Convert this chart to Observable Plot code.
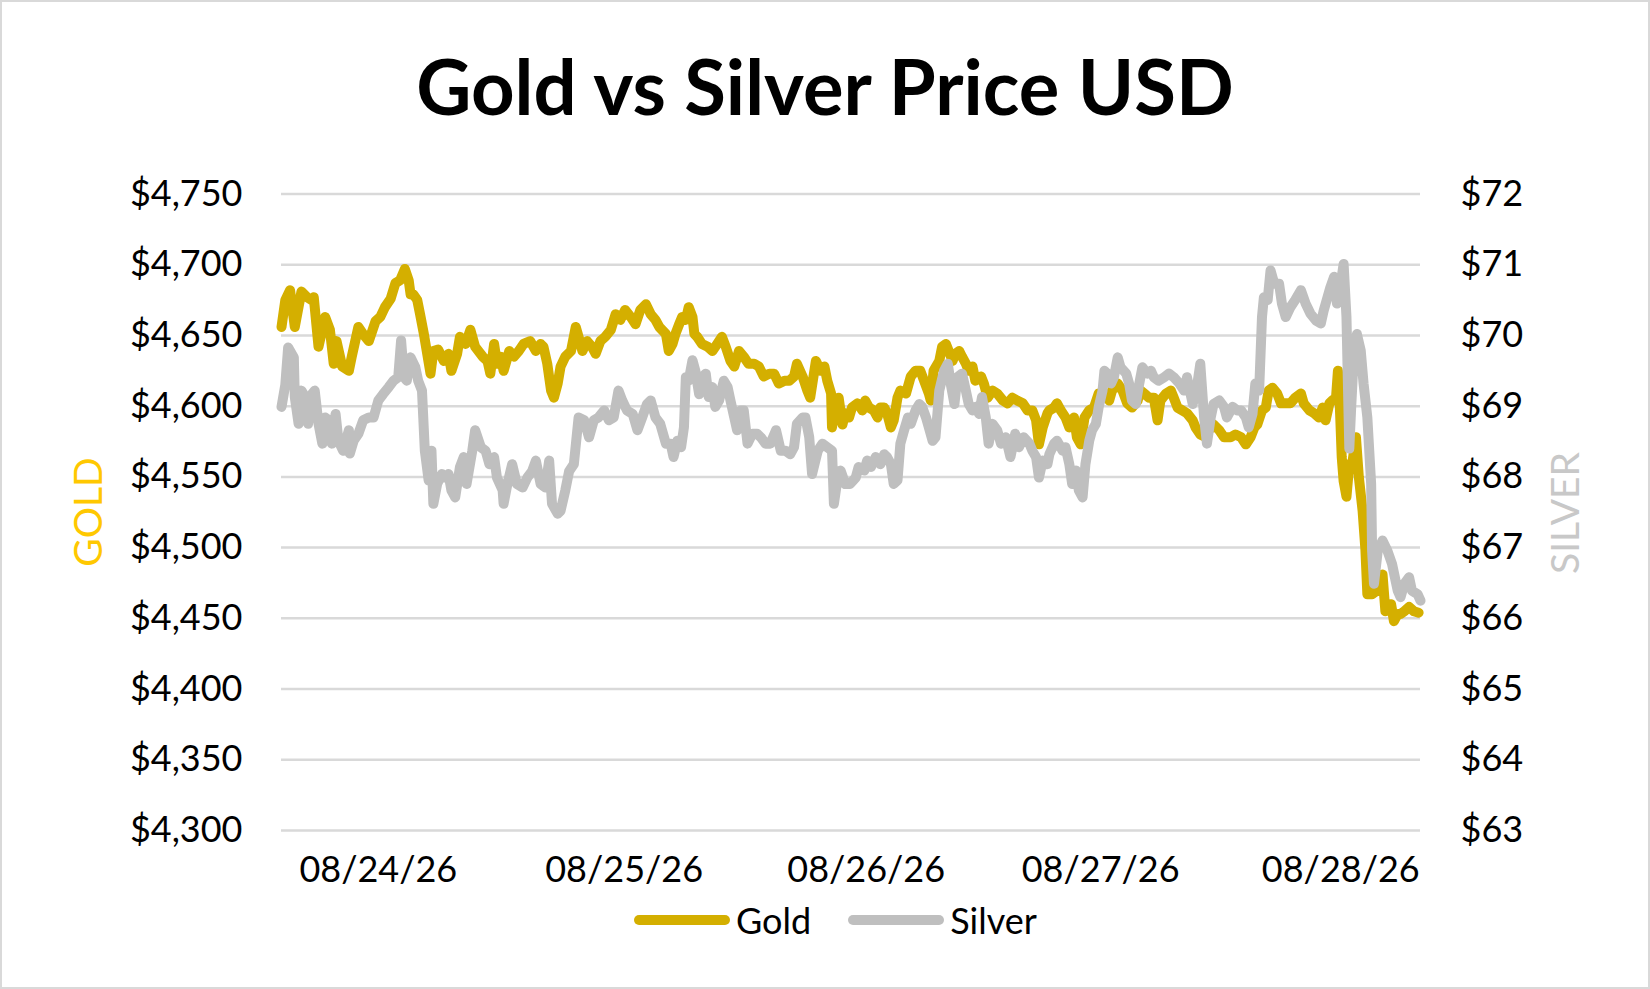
<!DOCTYPE html>
<html>
<head>
<meta charset="utf-8">
<script src="https://cdn.jsdelivr.net/npm/d3@7"></script>
<script src="https://cdn.jsdelivr.net/npm/@observablehq/plot@0.6"></script>
<style>
  html, body { margin: 0; padding: 0; background: #fff; }
  #frame { position: relative; width: 1650px; height: 989px; overflow: hidden; font-family: Lato, "Open Sans", sans-serif; color: #000; background: #fff; }
  #border { position: absolute; left: 0; top: 0; width: 1650px; height: 989px; box-sizing: border-box; border: 2px solid #d9d9d9; pointer-events: none; }
  #title { position: absolute; left: 0; top: 48px; width: 1650px; text-align: center; font-weight: 700; font-size: 76px; line-height: 76px; }
  #chart { position: absolute; left: 0; top: 150px; }
  .axtitle { position: absolute; font-size: 39px; line-height: 39px; white-space: nowrap; transform: translate(-50%, -50%) rotate(-90deg); }
  #legend { position: absolute; left: 634px; top: 900px; height: 40px; display: flex; align-items: center; font-size: 36px; line-height: 40px; }
  .sw { width: 96px; height: 10px; border-radius: 5px; }
</style>
</head>
<body>
<div id="frame">
  <div id="title"></div>
  <div id="chart"></div>
  <div id="goldTitle" class="axtitle"></div>
  <div id="silverTitle" class="axtitle"></div>
  <div id="legend"></div>
  <div id="border"></div>
</div>
<script>
const titleText = "Gold vs Silver Price USD";
const seriesNames = ["Gold", "Silver"];
const seriesColors = ["#D4AF00", "#BFBFBF"];
const axisTitles = ["GOLD", "SILVER"];
const axisTitleColors = ["#FFC800", "#C8C8C8"];

// hours since start of 08/24/26 session
const dayTicks = [10.2, 36.1, 61.6, 86.3, 111.6];
const dayLabels = ["08/24/26", "08/25/26", "08/26/26", "08/27/26", "08/28/26"];

const goldTicks = [4300, 4350, 4400, 4450, 4500, 4550, 4600, 4650, 4700, 4750];
const silverTicks = [63, 64, 65, 66, 67, 68, 69, 70, 71, 72];

// [hour, gold USD]
const gold = [
[0.0,4656],[0.4,4675],[0.9,4682],[1.4,4656],[2.1,4681],[2.7,4677],[3.2,4675],[3.4,4677],[3.9,4642],[4.6,4663],
[5.1,4654],[5.5,4630],[5.8,4646],[6.4,4628],[7.1,4625],[7.4,4635],[8.1,4656],[8.6,4651],[9.2,4646],[9.9,4660],
[10.4,4663],[10.9,4670],[11.5,4676],[12.0,4687],[12.5,4689],[13.0,4697],[13.4,4689],[13.6,4679],[13.9,4679],[14.3,4675],
[14.6,4665],[15.0,4651],[15.3,4639],[15.7,4623],[16.0,4639],[16.5,4640],[17.1,4632],[17.6,4637],[17.9,4625],[18.5,4637],
[18.8,4649],[19.4,4644],[19.9,4654],[20.4,4642],[21.2,4635],[21.7,4632],[22.0,4623],[22.4,4644],[22.7,4630],[23.1,4635],
[23.4,4625],[24.0,4639],[24.5,4635],[25.0,4639],[25.5,4644],[26.2,4646],[26.8,4639],[27.3,4644],[27.6,4642],[28.0,4630],
[28.4,4611],[28.7,4606],[29.1,4616],[29.4,4628],[29.9,4635],[30.5,4639],[31.0,4656],[31.3,4649],[31.7,4639],[32.2,4646],
[32.7,4642],[33.1,4637],[33.6,4646],[34.1,4649],[34.7,4654],[35.2,4665],[35.7,4661],[36.2,4668],[36.8,4663],[37.3,4658],
[37.8,4668],[38.4,4672],[38.9,4665],[39.4,4661],[39.8,4656],[40.5,4651],[40.8,4639],[41.2,4644],[41.5,4651],[41.9,4658],
[42.2,4663],[42.6,4661],[42.9,4670],[43.3,4663],[43.5,4651],[43.8,4649],[44.3,4644],[44.9,4642],[45.4,4639],[45.9,4644],
[46.4,4649],[46.8,4642],[47.3,4632],[47.7,4628],[48.2,4639],[48.7,4635],[49.2,4630],[49.8,4630],[50.3,4628],[50.8,4621],
[51.4,4623],[51.9,4623],[52.4,4616],[53.0,4618],[53.5,4618],[54.0,4621],[54.3,4630],[54.9,4621],[55.4,4611],[55.7,4606],
[56.3,4632],[56.8,4625],[57.2,4628],[57.5,4618],[57.9,4609],[58.0,4585],[58.4,4604],[58.7,4606],[59.1,4587],[59.4,4595],
[59.8,4592],[60.1,4599],[60.7,4602],[61.2,4597],[61.5,4604],[61.9,4599],[62.4,4597],[62.8,4592],[63.1,4599],[63.5,4599],
[63.8,4595],[64.2,4585],[64.5,4590],[64.9,4606],[65.2,4611],[65.8,4609],[66.3,4621],[66.8,4625],[67.3,4625],[67.7,4618],
[68.2,4609],[68.4,4604],[68.7,4625],[69.3,4632],[69.6,4642],[70.0,4644],[70.3,4639],[70.7,4632],[71.0,4637],[71.4,4639],
[71.7,4635],[72.1,4630],[72.4,4625],[72.8,4628],[73.1,4618],[73.7,4621],[74.0,4616],[74.4,4606],[74.9,4611],[75.4,4609],
[76.0,4604],[76.5,4602],[77.0,4606],[77.5,4604],[78.1,4602],[78.6,4597],[79.1,4597],[79.5,4590],[79.8,4573],[80.2,4585],
[80.7,4595],[80.9,4597],[81.4,4599],[81.7,4602],[82.1,4597],[82.6,4592],[83.0,4585],[83.5,4592],[83.8,4578],[84.2,4573],
[84.6,4592],[85.1,4597],[85.6,4599],[86.1,4609],[86.7,4609],[87.2,4604],[87.5,4611],[88.1,4616],[88.6,4611],[89.1,4602],
[89.6,4599],[90.2,4604],[90.5,4611],[90.9,4609],[91.4,4606],[91.9,4606],[92.3,4590],[92.6,4604],[93.2,4609],[93.7,4611],
[94.0,4606],[94.4,4599],[94.9,4597],[95.4,4595],[96.0,4590],[96.3,4585],[96.8,4580],[97.4,4578],[97.7,4583],[98.2,4587],
[98.8,4583],[99.3,4578],[100.0,4578],[100.5,4580],[101.1,4578],[101.6,4573],[102.1,4578],[102.5,4585],[102.8,4587],[103.3,4597],
[103.7,4599],[104.0,4611],[104.4,4613],[104.9,4609],[105.3,4602],[105.8,4602],[106.3,4602],[106.8,4606],[107.4,4609],[107.7,4602],
[108.3,4597],[108.8,4595],[109.3,4592],[109.7,4599],[110.0,4590],[110.4,4602],[110.7,4604],[111.1,4606],[111.3,4625],[111.5,4600],
[111.7,4564],[111.9,4547],[112.2,4536],[112.5,4559],[112.8,4559],[113.2,4578],[113.5,4550],[113.9,4526],[114.2,4498],[114.4,4467],
[114.9,4467],[115.5,4470],[116.0,4481],[116.3,4455],[116.9,4460],[117.2,4448],[117.6,4453],[117.9,4453],[118.3,4455],[118.8,4458],
[119.3,4455],[119.8,4454]
];

// [hour, silver USD]
const silver = [
[0.0,68.99],[0.4,69.30],[0.7,69.83],[1.3,69.69],[1.4,69.13],[1.8,68.75],[2.1,69.22],[2.5,69.13],[2.8,68.75],[3.2,69.17],
[3.5,69.22],[3.9,68.75],[4.3,68.47],[4.6,68.84],[5.0,68.80],[5.3,68.47],[5.7,68.89],[6.0,68.51],[6.5,68.37],[7.1,68.66],
[7.2,68.33],[7.6,68.51],[8.1,68.61],[8.6,68.80],[9.2,68.84],[9.7,68.84],[10.2,69.08],[10.7,69.17],[11.3,69.27],[11.8,69.36],
[12.3,69.41],[12.6,69.93],[12.9,69.41],[13.2,69.36],[13.6,69.69],[14.1,69.55],[14.4,69.36],[14.8,69.22],[15.1,68.37],[15.5,67.95],
[15.8,68.37],[16.0,67.62],[16.4,67.90],[16.9,68.04],[17.2,67.99],[17.6,68.04],[17.9,67.81],[18.3,67.71],[18.8,68.14],[19.2,68.28],
[19.5,67.90],[20.1,68.37],[20.4,68.66],[21.0,68.42],[21.5,68.37],[21.9,68.18],[22.4,68.28],[22.7,67.99],[23.3,67.81],[23.4,67.62],
[23.8,67.90],[24.3,68.18],[24.8,67.90],[25.4,67.85],[25.9,67.99],[26.4,68.08],[26.8,68.23],[27.3,67.90],[27.8,67.85],[28.2,68.23],
[28.5,67.62],[29.1,67.48],[29.4,67.52],[29.9,67.81],[30.3,68.08],[30.8,68.18],[31.3,68.84],[31.9,68.80],[32.4,68.56],[32.9,68.80],
[33.4,68.84],[34.0,68.94],[34.5,68.80],[35.0,68.84],[35.5,69.22],[35.9,69.08],[36.4,68.94],[37.0,68.89],[37.5,68.66],[38.0,68.84],
[38.5,69.03],[38.9,69.08],[39.4,68.84],[39.9,68.75],[40.5,68.47],[41.0,68.47],[41.3,68.28],[41.7,68.51],[42.1,68.42],[42.4,68.70],
[42.6,69.41],[42.9,69.36],[43.3,69.65],[43.6,69.50],[44.0,69.17],[44.3,69.41],[44.7,69.46],[45.0,69.13],[45.4,69.27],[45.7,68.99],
[46.1,69.08],[46.6,69.36],[47.0,69.27],[47.3,69.08],[47.7,68.84],[48.0,68.66],[48.4,68.94],[48.7,68.94],[49.1,68.47],[49.6,68.61],
[50.1,68.61],[50.5,68.56],[51.0,68.47],[51.5,68.47],[52.1,68.66],[52.6,68.37],[53.1,68.37],[53.6,68.32],[54.0,68.42],[54.3,68.75],
[54.9,68.84],[55.2,68.84],[55.6,68.56],[55.9,68.04],[56.5,68.37],[57.0,68.47],[57.5,68.42],[58.0,68.37],[58.2,67.62],[58.6,67.99],
[58.9,68.09],[59.4,67.90],[59.9,67.90],[60.5,67.99],[60.8,68.14],[61.4,68.09],[61.7,68.23],[62.1,68.14],[62.6,68.28],[63.1,68.18],
[63.5,68.32],[63.8,68.28],[64.2,68.18],[64.5,67.90],[64.9,67.95],[65.2,68.47],[65.6,68.66],[66.0,68.84],[66.3,68.75],[66.8,68.94],
[67.2,69.03],[67.5,68.99],[67.9,68.84],[68.2,68.70],[68.6,68.51],[68.9,68.56],[69.3,69.22],[69.8,69.50],[70.2,69.60],[70.5,69.32],
[70.9,69.03],[71.2,69.41],[71.7,69.46],[72.1,69.22],[72.4,69.03],[72.8,68.94],[73.1,68.99],[73.5,68.89],[73.8,69.13],[74.2,68.84],
[74.5,68.47],[74.9,68.75],[75.4,68.66],[75.8,68.47],[76.3,68.56],[76.8,68.28],[77.3,68.61],[77.7,68.42],[78.2,68.56],[78.8,68.47],
[79.1,68.37],[79.5,68.28],[79.8,67.99],[80.2,68.23],[80.7,68.18],[80.9,68.32],[81.4,68.47],[81.7,68.51],[82.3,68.37],[82.6,68.42],
[83.0,68.18],[83.3,67.90],[83.7,68.09],[84.0,67.81],[84.4,67.71],[84.7,68.18],[85.1,68.51],[85.4,68.66],[85.8,68.75],[86.1,68.99],
[86.5,69.22],[86.7,69.50],[87.0,69.46],[87.4,69.32],[87.7,69.41],[88.1,69.69],[88.4,69.55],[89.0,69.46],[89.3,69.32],[89.6,69.08],
[90.0,69.03],[90.3,69.27],[90.7,69.55],[91.2,69.46],[91.6,69.50],[91.9,69.41],[92.4,69.36],[93.0,69.41],[93.5,69.46],[94.0,69.41],
[94.6,69.32],[95.1,69.22],[95.4,69.41],[96.0,69.03],[96.5,69.32],[96.8,69.60],[97.2,68.84],[97.5,68.47],[97.9,68.84],[98.2,69.03],
[98.8,69.08],[99.3,68.99],[99.6,68.84],[100.2,68.99],[100.7,68.94],[101.1,68.94],[101.6,68.84],[101.9,68.70],[102.3,68.89],[102.6,69.32],
[103.0,69.22],[103.3,70.26],[103.5,70.54],[103.9,70.50],[104.2,70.92],[104.6,70.73],[105.1,70.73],[105.4,70.45],[105.8,70.26],[106.3,70.40],
[106.8,70.50],[107.4,70.64],[107.9,70.45],[108.4,70.31],[109.0,70.21],[109.5,70.17],[109.8,70.35],[110.2,70.54],[110.5,70.68],[110.9,70.83],
[111.2,70.45],[111.6,70.73],[111.9,71.01],[112.2,70.26],[112.5,68.40],[112.7,68.99],[113.0,69.79],[113.3,70.02],[113.7,69.79],[114.0,69.32],
[114.4,68.84],[114.8,67.90],[114.9,66.96],[115.1,66.49],[115.5,66.96],[116.0,67.10],[116.5,66.96],[117.0,66.77],[117.6,66.39],[117.9,66.30],
[118.3,66.49],[118.8,66.58],[119.1,66.39],[119.7,66.34],[120.0,66.25]
];

// map silver onto the gold axis: both axes have 9 equal steps
const goldLo = goldTicks[0], goldHi = goldTicks[goldTicks.length - 1];
const silverLo = silverTicks[0], silverHi = silverTicks[silverTicks.length - 1];
const toGold = s => goldLo + (s - silverLo) * (goldHi - goldLo) / (silverHi - silverLo);
const labelOf = new Map(dayTicks.map((t, i) => [t, dayLabels[i]]));

document.getElementById("title").textContent = titleText;
const gt = document.getElementById("goldTitle");
gt.textContent = axisTitles[0]; gt.style.color = axisTitleColors[0];
gt.style.left = "87px"; gt.style.top = "512px";
const st = document.getElementById("silverTitle");
st.textContent = axisTitles[1]; st.style.color = axisTitleColors[1];
st.style.left = "1564px"; st.style.top = "513px";

const legend = document.getElementById("legend");
seriesNames.forEach((name, i) => {
  const sw = document.createElement("div");
  sw.className = "sw";
  sw.style.background = seriesColors[i];
  sw.style.marginRight = "6px";
  if (i > 0) sw.style.marginLeft = "37px";
  const tx = document.createElement("span");
  tx.textContent = name;
  legend.appendChild(sw);
  legend.appendChild(tx);
});

const chart = Plot.plot({
  width: 1650,
  height: 760,
  marginTop: 43.5,
  marginBottom: 80,
  marginLeft: 281,
  marginRight: 230,
  style: { fontFamily: "Lato, 'Open Sans', sans-serif", fontSize: "36px", color: "#000", background: "transparent" },
  x: { type: "linear", domain: [0, 120] },
  y: { domain: [goldLo, goldHi] },
  marks: [
    Plot.gridY({ ticks: goldTicks, stroke: "#d9d9d9", strokeOpacity: 1, strokeWidth: 2.5 }),
    Plot.axisY({ ticks: goldTicks, tickSize: 0, tickPadding: 39, label: null, fontSize: 36,
      tickFormat: d => "$" + d3.format(",")(d) }),
    Plot.axisY({ anchor: "right", ticks: silverTicks.map(toGold), tickSize: 0, tickPadding: 40, label: null, fontSize: 36,
      tickFormat: d => "$" + Math.round(silverLo + (d - goldLo) * (silverHi - silverLo) / (goldHi - goldLo)) }),
    Plot.axisX({ ticks: dayTicks, tickSize: 0, tickPadding: 26, label: null, fontSize: 36,
      tickFormat: d => labelOf.get(d) }),
    Plot.line(gold, { x: d => d[0], y: d => d[1], stroke: seriesColors[0], strokeWidth: 10,
      strokeLinejoin: "round", strokeLinecap: "round" }),
    Plot.line(silver, { x: d => d[0], y: d => toGold(d[1]), stroke: seriesColors[1], strokeWidth: 10,
      strokeLinejoin: "round", strokeLinecap: "round" })
  ]
});
document.getElementById("chart").appendChild(chart);
</script>
</body>
</html>
